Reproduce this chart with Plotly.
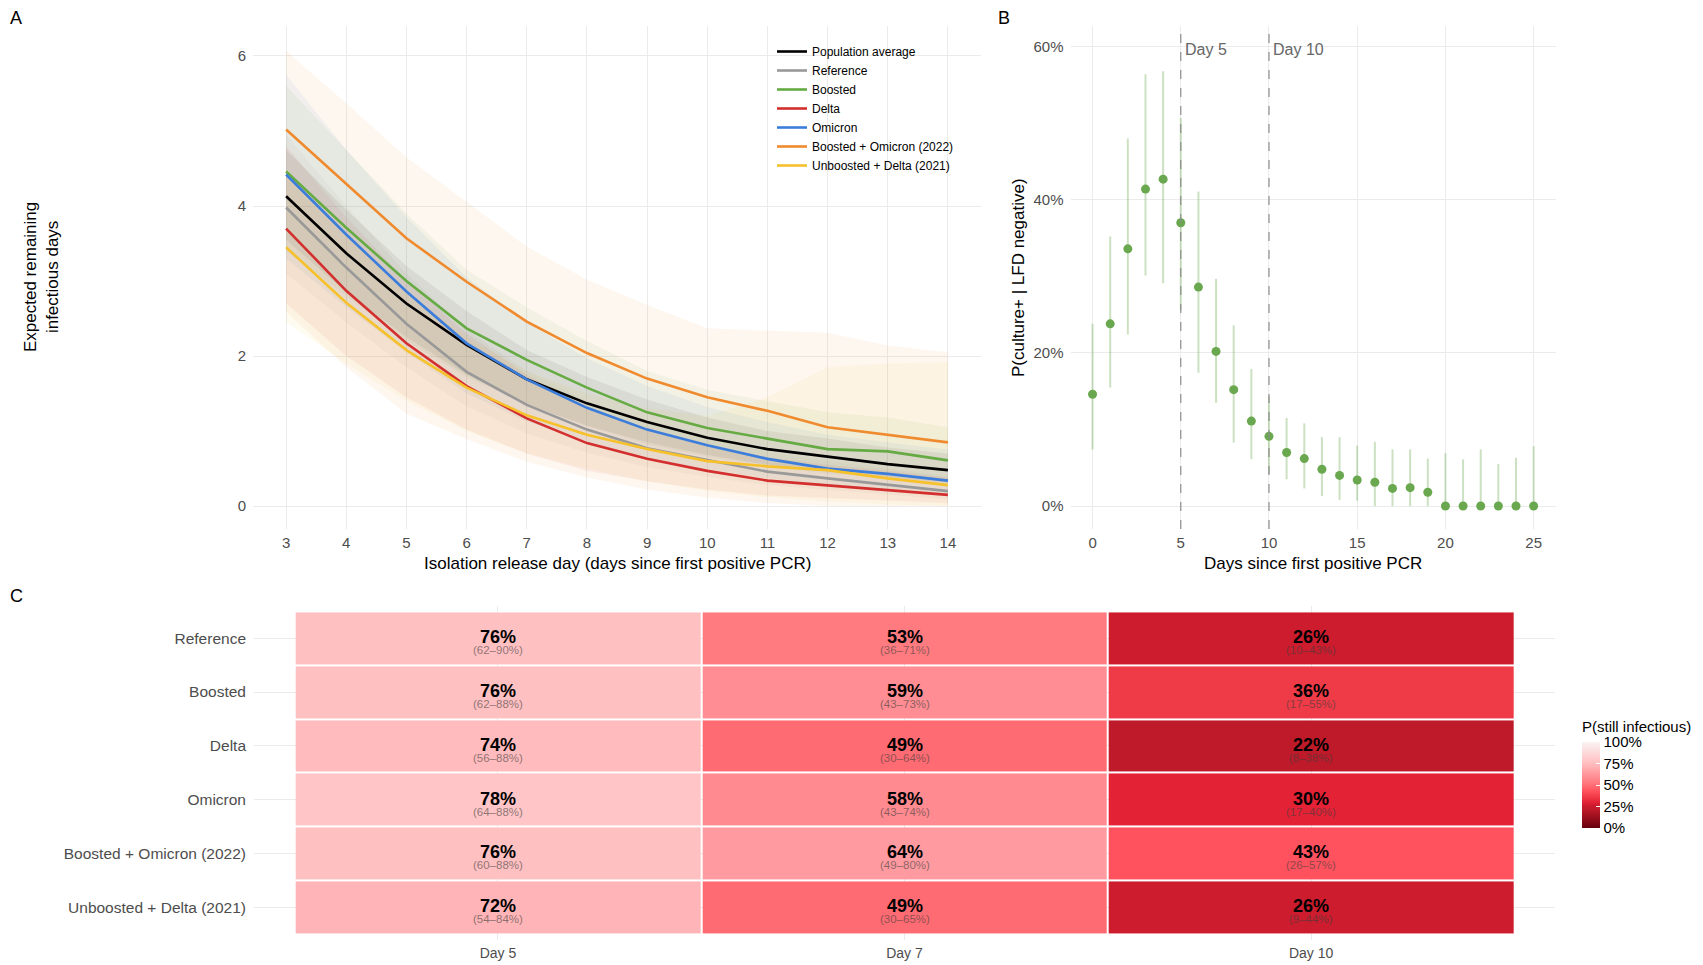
import plotly.graph_objects as go

W, H = 1703, 965
FONT = "Liberation Sans, Arial, sans-serif"
TICKC = "#4D4D4D"
GRID = "#EBEBEB"

# ---------------- Panel A data ----------------
release_days = [3, 4, 5, 6, 7, 8, 9, 10, 11, 12, 13, 14]
series_names = ["Population average", "Reference", "Boosted", "Delta", "Omicron",
                "Boosted + Omicron (2022)", "Unboosted + Delta (2021)"]
series_colors = ["#000000", "#999999", "#66AA44", "#D32F2F", "#3C7DDB", "#F08A2E", "#F6C12B"]

pop_mean = [4.13, 3.37, 2.70, 2.15, 1.69, 1.37, 1.12, 0.91, 0.76, 0.66, 0.56, 0.48]
pop_lo = [3.55, 2.85, 2.25, 1.75, 1.35, 1.07, 0.85, 0.68, 0.55, 0.46, 0.38, 0.31]
pop_hi = [4.75, 3.95, 3.20, 2.60, 2.08, 1.72, 1.42, 1.18, 1.00, 0.90, 0.78, 0.70]

ref_mean = [3.98, 3.18, 2.43, 1.79, 1.35, 1.02, 0.77, 0.61, 0.46, 0.37, 0.29, 0.20]
ref_lo = [3.10, 2.45, 1.85, 1.33, 0.97, 0.71, 0.52, 0.39, 0.28, 0.21, 0.15, 0.09]
ref_hi = [4.95, 4.00, 3.10, 2.35, 1.80, 1.40, 1.10, 0.90, 0.72, 0.60, 0.50, 0.40]

boost_mean = [4.46, 3.71, 3.00, 2.37, 1.95, 1.58, 1.25, 1.04, 0.90, 0.76, 0.73, 0.61]
boost_lo = [3.40, 2.80, 2.20, 1.72, 1.36, 1.07, 0.82, 0.66, 0.54, 0.43, 0.39, 0.30]
boost_hi = [5.60, 4.75, 3.90, 3.15, 2.65, 2.20, 1.80, 1.55, 1.40, 1.25, 1.18, 1.05]

delta_mean = [3.70, 2.87, 2.17, 1.60, 1.17, 0.84, 0.63, 0.47, 0.34, 0.28, 0.22, 0.15]
delta_lo = [2.70, 2.00, 1.45, 1.02, 0.70, 0.47, 0.33, 0.22, 0.14, 0.10, 0.07, 0.04]
delta_hi = [4.80, 3.85, 3.00, 2.30, 1.75, 1.32, 1.04, 0.82, 0.65, 0.55, 0.47, 0.38]

omi_mean = [4.42, 3.62, 2.86, 2.17, 1.69, 1.31, 1.02, 0.81, 0.63, 0.50, 0.43, 0.34]
omi_lo = [3.30, 2.65, 2.05, 1.50, 1.13, 0.85, 0.64, 0.49, 0.37, 0.28, 0.22, 0.16]
omi_hi = [5.75, 4.75, 3.85, 3.05, 2.45, 1.97, 1.60, 1.32, 1.12, 0.95, 0.85, 0.75]

bo_mean = [5.02, 4.29, 3.57, 2.99, 2.46, 2.04, 1.70, 1.45, 1.27, 1.05, 0.95, 0.85]
bo_lo = [2.59, 1.85, 1.23, 0.89, 0.59, 0.38, 0.22, 0.11, 0.04, 0.00, 0.00, 0.00]
bo_hi = [6.07, 5.37, 4.65, 4.06, 3.46, 3.02, 2.68, 2.37, 2.34, 2.31, 2.14, 2.05]

ud_mean = [3.45, 2.71, 2.08, 1.58, 1.21, 0.95, 0.76, 0.60, 0.53, 0.48, 0.37, 0.28]
ud_lo = [2.45, 1.90, 1.40, 1.00, 0.70, 0.50, 0.33, 0.20, 0.12, 0.06, 0.02, 0.00]
ud_hi = [4.50, 3.60, 2.85, 2.25, 1.80, 1.50, 1.30, 1.20, 1.45, 1.85, 1.90, 1.92]

means = [pop_mean, ref_mean, boost_mean, delta_mean, omi_mean, bo_mean, ud_mean]
lows = [pop_lo, ref_lo, boost_lo, delta_lo, omi_lo, bo_lo, ud_lo]
highs = [pop_hi, ref_hi, boost_hi, delta_hi, omi_hi, bo_hi, ud_hi]

# ---------------- Panel B data ----------------
days_b = list(range(26))
p_culture = [0.146, 0.238, 0.336, 0.414, 0.427, 0.370, 0.286, 0.202, 0.152, 0.111, 0.091,
             0.070, 0.062, 0.048, 0.040, 0.034, 0.031, 0.023, 0.024, 0.018, 0.0, 0.0, 0.0,
             0.0, 0.0, 0.0]
p_lo = [0.074, 0.155, 0.224, 0.301, 0.291, 0.256, 0.174, 0.135, 0.083, 0.061, 0.042,
        0.035, 0.023, 0.013, 0.008, 0.007, 0.0, 0.0, 0.0, 0.0, 0.0, 0.0, 0.0, 0.0, 0.0, 0.0]
p_hi = [0.238, 0.352, 0.480, 0.564, 0.568, 0.507, 0.411, 0.297, 0.236, 0.179, 0.143,
        0.115, 0.108, 0.090, 0.090, 0.079, 0.084, 0.074, 0.074, 0.062, 0.069, 0.061,
        0.074, 0.055, 0.063, 0.078]
vlines_b = [5, 10]
vline_labels = ["Day 5", "Day 10"]

# ---------------- Panel C data ----------------
groups_c = ["Reference", "Boosted", "Delta", "Omicron",
            "Boosted + Omicron (2022)", "Unboosted + Delta (2021)"]
release_c = ["Day 5", "Day 7", "Day 10"]
p_infectious = [[76, 53, 26], [76, 59, 36], [74, 49, 22],
                [78, 58, 30], [76, 64, 43], [72, 49, 26]]
p_inf_lo = [[62, 36, 10], [62, 43, 17], [56, 30, 8],
            [64, 43, 17], [60, 49, 26], [54, 30, 9]]
p_inf_hi = [[90, 71, 43], [88, 73, 55], [88, 64, 38],
            [88, 74, 40], [88, 80, 57], [84, 65, 44]]
cb_ticks = [0, 0.25, 0.5, 0.75, 1.0]
cb_labels = ["0%", "25%", "50%", "75%", "100%"]


def hex_rgba(h, a):
    h = h.lstrip("#")
    return "rgba(%d,%d,%d,%.3f)" % (int(h[0:2], 16), int(h[2:4], 16), int(h[4:6], 16), a)


def px_x(p):
    return p / W


def px_y(p):
    return 1 - p / H


fig = go.Figure()

# Ribbons
for name, col, lo, hi in zip(series_names, series_colors, lows, highs):
    fig.add_trace(go.Scatter(
        x=release_days + release_days[::-1], y=hi + lo[::-1],
        fill="toself", fillcolor=hex_rgba(col, 0.07), line=dict(width=0),
        mode="lines", showlegend=False, hoverinfo="skip", xaxis="x", yaxis="y"))
# Lines
for name, col, m in zip(series_names, series_colors, means):
    fig.add_trace(go.Scatter(
        x=release_days, y=m, mode="lines", name=name,
        line=dict(color=col, width=2.6), xaxis="x", yaxis="y"))

# Panel B
err_up = [h - v for h, v in zip(p_hi, p_culture)]
err_dn = [v - l for v, l in zip(p_culture, p_lo)]
fig.add_trace(go.Scatter(
    x=days_b, y=p_culture, mode="markers",
    marker=dict(color="#6AA84F", size=9),
    error_y=dict(type="data", symmetric=False, array=err_up, arrayminus=err_dn,
                 color="rgba(106,168,79,0.35)", thickness=2, width=0),
    showlegend=False, xaxis="x2", yaxis="y2"))

# Panel C heatmap
z = [[v / 100 for v in row] for row in p_infectious]
colorscale = [
    [0.0, "#67000D"], [0.22, "#BF1A2A"], [0.26, "#CC1C2E"], [0.30, "#E32236"],
    [0.36, "#EF3A47"], [0.43, "#FF525E"], [0.49, "#FF6B72"], [0.53, "#FF7B80"],
    [0.58, "#FF8A90"], [0.64, "#FF9BA0"], [0.72, "#FFB5B8"], [0.76, "#FFC0C2"],
    [0.78, "#FFC5C7"], [1.0, "#FAF3F3"]]
fig.add_trace(go.Heatmap(
    x=release_c, y=groups_c, z=z, zmin=0, zmax=1, colorscale=colorscale,
    xgap=2, ygap=2, hoverinfo="skip", xaxis="x3", yaxis="y3",
    colorbar=dict(
        x=px_x(1582), xanchor="left", xpad=0,
        y=px_y(742), yanchor="top", ypad=0,
        lenmode="pixels", len=86, thickness=18, thicknessmode="pixels",
        outlinewidth=0, tickvals=cb_ticks, ticktext=cb_labels,
        ticks="inside", tickcolor="white", ticklen=4,
        tickfont=dict(family=FONT, size=15, color="#000"))))

annotations = []
for i, g in enumerate(groups_c):
    for j, d in enumerate(release_c):
        annotations.append(dict(
            x=d, y=g, xref="x3", yref="y3", text="<b>%d%%</b>" % p_infectious[i][j],
            showarrow=False, yshift=1, xanchor="center", yanchor="middle",
            font=dict(family=FONT, size=18, color="#000")))
        annotations.append(dict(
            x=d, y=g, xref="x3", yref="y3",
            text="(%d\u2013%d%%)" % (p_inf_lo[i][j], p_inf_hi[i][j]),
            showarrow=False, yshift=-12, xanchor="center", yanchor="middle",
            font=dict(family=FONT, size=11.5, color="rgba(60,60,60,0.6)")))

for xv, lab in zip(vlines_b, vline_labels):
    annotations.append(dict(x=xv, y=0.60, xref="x2", yref="y2", text=lab, showarrow=False,
                            xanchor="left", yanchor="middle", xshift=2, yshift=-3,
                            font=dict(family=FONT, size=16, color="#666666")))


def ann(x, y, text, size=17, angle=0, xanchor="center"):
    return dict(x=px_x(x), y=px_y(y), xref="paper", yref="paper", text=text,
                showarrow=False, textangle=angle, xanchor=xanchor, yanchor="middle",
                font=dict(family=FONT, size=size, color="#000"))


annotations += [
    ann(617, 563, "Isolation release day (days since first positive PCR)"),
    ann(41, 277, "Expected remaining<br>infectious days", angle=-90),
    ann(1313, 563, "Days since first positive PCR"),
    ann(1018, 277, "P(culture+ | LFD negative)", angle=-90),
    ann(16, 18, "A", size=18),
    ann(1004, 18, "B", size=18),
    ann(16, 596, "C", size=18),
    ann(1580, 726, "P(still infectious)", size=15, xanchor="left"),
]

shapes = []
for xv in vlines_b:
    shapes.append(dict(type="line", xref="x2", yref="y2 domain", x0=xv, x1=xv, y0=0, y1=1,
                       line=dict(color="#8C8C8C", width=1.2, dash="dash"), layer="above"))

tickfont = dict(family=FONT, size=15, color=TICKC)
common_axis = dict(showline=False, zeroline=False, gridcolor=GRID, gridwidth=1,
                   tickfont=tickfont, ticks="")

fig.update_layout(
    width=W, height=H, margin=dict(l=0, r=0, t=0, b=0),
    paper_bgcolor="white", plot_bgcolor="white",
    font=dict(family=FONT),
    xaxis=dict(domain=[px_x(253), px_x(981)], range=[2.45, 14.55], tickvals=release_days,
               anchor="y", ticklabelstandoff=3, **common_axis),
    yaxis=dict(domain=[px_y(529), px_y(25.6)], range=[-0.305, 6.405], tickvals=[0, 2, 4, 6],
               anchor="x", ticklabelstandoff=6, **common_axis),
    xaxis2=dict(domain=[px_x(1070.5), px_x(1555.7)], range=[-1.25, 26.25],
                tickvals=[0, 5, 10, 15, 20, 25], anchor="y2", ticklabelstandoff=3, **common_axis),
    yaxis2=dict(domain=[px_y(529), px_y(25.6)], range=[-0.03, 0.6276],
                tickvals=[0, 0.2, 0.4, 0.6], tickformat=".0%", anchor="x2",
                ticklabelstandoff=6, **common_axis),
    xaxis3=dict(domain=[px_x(254), px_x(1555)], range=[-0.6, 2.6], anchor="y3",
                type="category", ticklabelstandoff=3,
                **dict(common_axis, tickfont=dict(family=FONT, size=14, color=TICKC))),
    yaxis3=dict(domain=[px_y(939.5), px_y(606)], range=[5.6, -0.6], anchor="x3",
                type="category", ticklabelstandoff=7,
                **dict(common_axis, tickfont=dict(family=FONT, size=15.5, color=TICKC))),
    legend=dict(x=px_x(772), y=px_y(37), xanchor="left", yanchor="top",
                bgcolor="rgba(0,0,0,0)", font=dict(family=FONT, size=12, color="#000"),
                itemwidth=30, tracegroupgap=0),
    annotations=annotations, shapes=shapes,
)

fig.write_html("out.html")
